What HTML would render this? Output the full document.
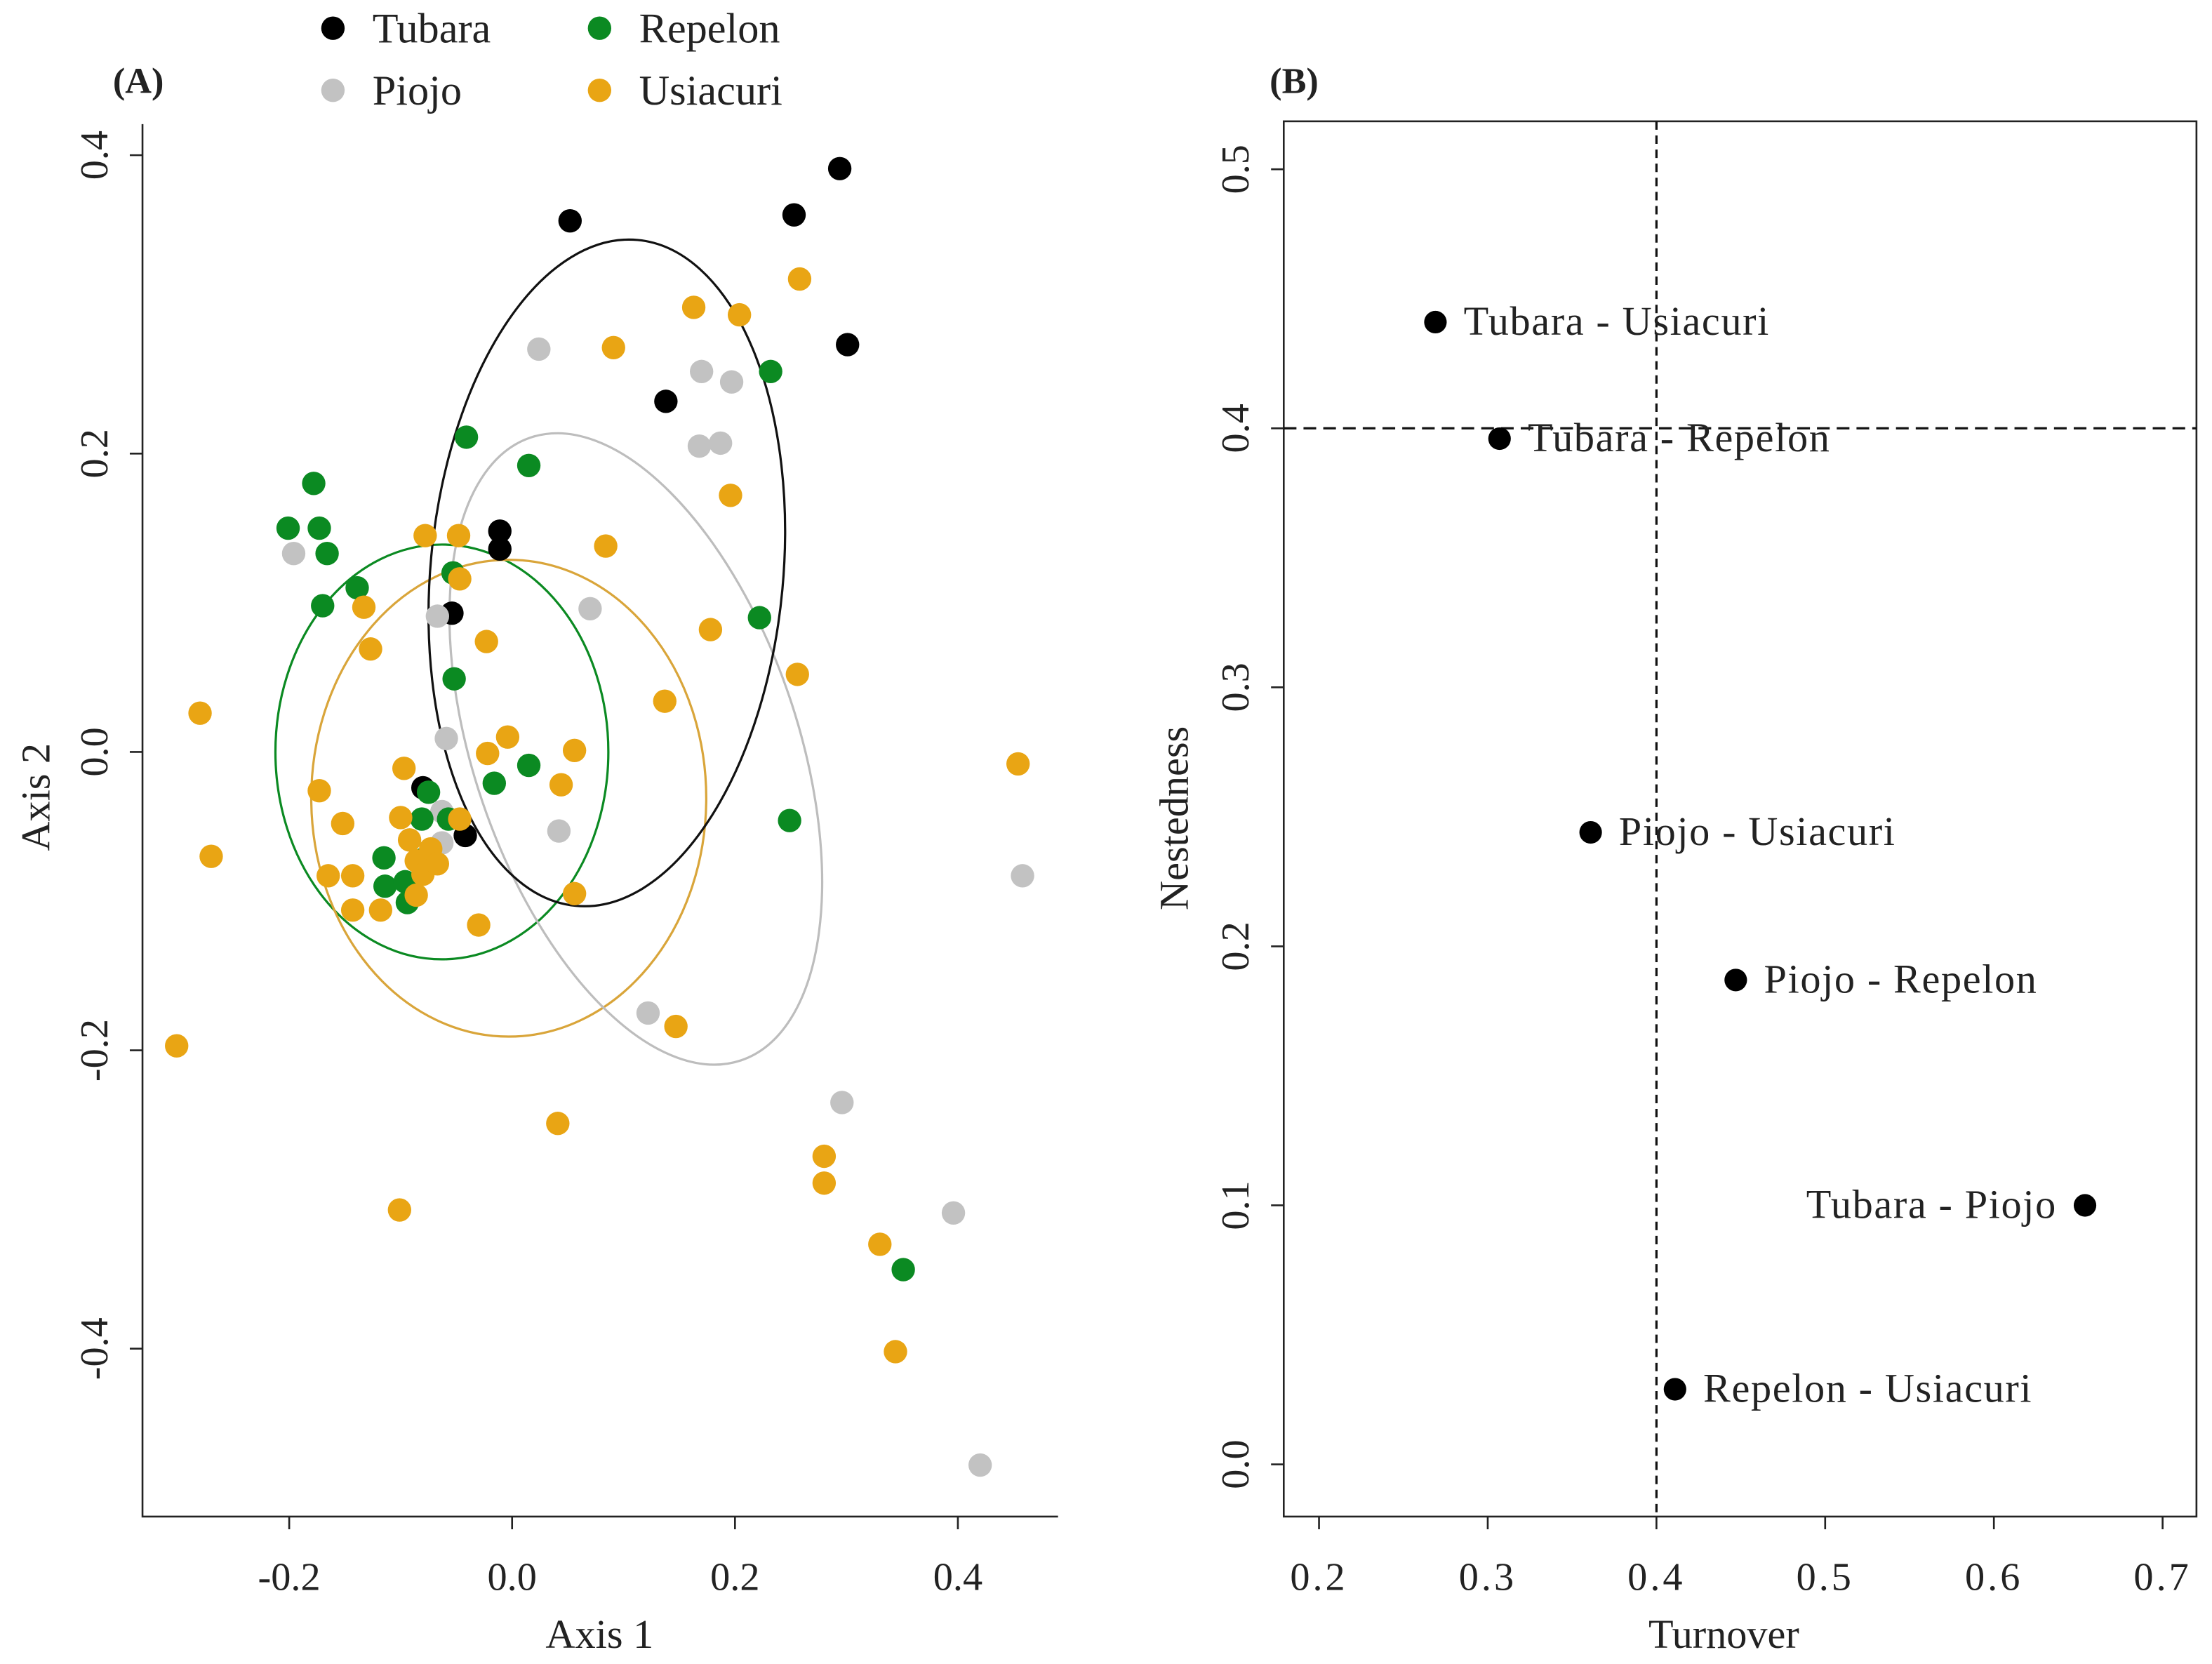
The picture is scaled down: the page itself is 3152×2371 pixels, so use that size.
<!DOCTYPE html>
<html><head><meta charset="utf-8"><style>
html,body{margin:0;padding:0;background:#fff}
svg{display:block}
text{font-family:"Liberation Serif",serif;fill:#222}
</style></head><body>
<svg id="chart" width="3152" height="2371" viewBox="0 0 1568 1179.5" xmlns="http://www.w3.org/2000/svg">
<g id="panelA"></g>
<g id="panelB"></g>
</svg>
<script>
// Panel A data
const tubaraX=[0.052,0.253,0.294,0.301,0.138,-0.011,-0.011,-0.054,-0.080,-0.042];
const tubaraY=[0.356,0.360,0.391,0.273,0.235,0.148,0.136,0.093,-0.024,-0.056];
const piojoX=[-0.196,0.024,0.170,0.197,0.168,0.187,0.070,-0.067,-0.059,-0.063,-0.063,0.042,0.122,0.296,0.396,0.458,0.420];
const piojoY=[0.133,0.270,0.255,0.248,0.205,0.207,0.096,0.091,0.009,-0.040,-0.061,-0.053,-0.175,-0.235,-0.309,-0.083,-0.478];
const repelonX=[-0.201,-0.178,-0.173,-0.166,-0.170,-0.139,-0.041,0.015,-0.053,-0.052,0.232,0.222,0.015,-0.016,-0.075,-0.057,-0.081,-0.115,-0.114,-0.094,-0.096,-0.080,0.249,0.351];
const repelonY=[0.150,0.180,0.150,0.133,0.098,0.110,0.211,0.192,0.120,0.049,0.255,0.090,-0.009,-0.021,-0.027,-0.045,-0.045,-0.071,-0.090,-0.101,-0.087,-0.072,-0.046,-0.347];
const usiacuriX=[-0.280,-0.270,-0.301,-0.173,-0.165,-0.152,-0.143,-0.143,-0.118,-0.133,-0.127,-0.078,-0.048,-0.047,-0.023,-0.022,-0.004,0.044,0.056,0.041,0.056,-0.030,-0.101,-0.097,-0.100,-0.092,-0.086,-0.080,-0.073,-0.086,-0.067,-0.047,0.091,0.084,0.137,0.147,0.163,0.204,0.196,0.178,0.256,0.258,0.280,0.280,0.330,0.344,0.454];
const usiacuriY=[0.026,-0.070,-0.197,-0.026,-0.083,-0.048,-0.083,-0.106,-0.106,0.097,0.069,0.145,0.145,0.116,0.074,-0.001,0.010,-0.022,0.001,-0.249,-0.095,-0.116,-0.307,-0.011,-0.044,-0.059,-0.073,-0.082,-0.065,-0.096,-0.075,-0.045,0.271,0.138,0.034,-0.184,0.298,0.293,0.172,0.082,0.052,0.317,-0.271,-0.289,-0.330,-0.402,-0.008];
const xTicksA=[-0.2,0.0,0.2,0.4];
const yTicksA=[-0.4,-0.2,0.0,0.2,0.4];
// Panel B data
const pairLabels=["Tubara - Usiacuri","Tubara - Repelon","Piojo - Usiacuri","Piojo - Repelon","Tubara - Piojo","Repelon - Usiacuri"];
const turnover=[0.269,0.307,0.361,0.447,0.654,0.411];
const nestedness=[0.441,0.396,0.244,0.187,0.100,0.029];
const xTicksB=[0.2,0.3,0.4,0.5,0.6,0.7];
const yTicksB=[0.0,0.1,0.2,0.3,0.4,0.5];

const NS="http://www.w3.org/2000/svg";
function mk(parent,tag,attrs,txt){const e=document.createElementNS(NS,tag);for(const k in attrs)e.setAttribute(k,attrs[k]);if(txt!==undefined)e.textContent=txt;parent.appendChild(e);return e;}
const xA=v=>363+v*790, yA=v=>533-v*1057.5;
const xB=v=>935+(v-0.2)*1196, yB=v=>1038-v*1836;
const fmt=v=>v.toFixed(1);

const A=document.getElementById('panelA');
// axes
let ax=mk(A,'path',{d:`M101,88 L101,1075 L750,1075`,fill:'none',stroke:'#222','stroke-width':1.3});


xTicksA.forEach(v=>{
  let l=mk(A,'line',{x1:xA(v),x2:xA(v),y1:1075,y2:1084,stroke:'#222','stroke-width':1.3});
  
  
  let t=mk(A,'text',{x:xA(v),y:1127,'font-size':28,'text-anchor':'middle'},fmt(v));
  
  
});
yTicksA.forEach(v=>{
  let l=mk(A,'line',{x1:92,x2:101,y1:yA(v),y2:yA(v),stroke:'#222','stroke-width':1.3});
  
  
  let t=mk(A,'text',{x:0,y:0,'font-size':28,'text-anchor':'middle',transform:`translate(76,${yA(v)}) rotate(-90)`},fmt(v));
  
  
});
let t1=mk(A,'text',{x:425,y:1168,'font-size':29,'text-anchor':'middle'},'Axis 1');


let t2=mk(A,'text',{x:0,y:0,'font-size':29,'text-anchor':'middle',transform:'translate(35,565) rotate(-90)'},'Axis 2');


let la=mk(A,'text',{x:80,y:66,'font-size':26,'font-weight':'bold'},'(A)');



// ellipses [cx data, cy data, rx px, ry px, angle]
const ells=[[ -0.063,0.0,118,147,0,'#0b8a22','repelon'],[-0.003,-0.031,140,169,0,'#d9a53a','usiacuri'],[0.111,0.002,115,233,-18.7,'#bdbdbd','piojo'],[0.085,0.12,125,237,5.3,'#111','tubara']];
ells.forEach(e=>{
  const cx=xA(e[0]),cy=yA(e[1]);
  let el=mk(A,'ellipse',{cx:0,cy:0,rx:e[2],ry:e[3],fill:'none',stroke:e[5],'stroke-width':1.6,transform:`translate(${cx},${cy}) rotate(${e[4]})`});
  
  
});
const groups=[[tubaraX,tubaraY,'#000','tubara'],[piojoX,piojoY,'#c2c2c2','piojo'],[repelonX,repelonY,'#0b8a22','repelon'],[usiacuriX,usiacuriY,'#e9a514','usiacuri']];
groups.forEach(g=>{
  g[0].forEach((x,i)=>{
    let c=mk(A,'circle',{cx:xA(x),cy:yA(g[1][i]),r:8.3,fill:g[2]});
    
    
  });
});
// legend
const leg=[['Tubara','#000',236,20],['Repelon','#0b8a22',425,20],['Piojo','#c2c2c2',236,64],['Usiacuri','#e9a514',425,64]];
leg.forEach(l=>{
  let c=mk(A,'circle',{cx:l[2],cy:l[3],r:8.3,fill:l[1]});
  
  
  let t=mk(A,'text',{x:l[2]+28,y:l[3]+10,'font-size':30},l[0]);
  
  
});

// Panel B
const B=document.getElementById('panelB');
let box=mk(B,'rect',{x:910,y:86,width:647,height:989,fill:'none',stroke:'#222','stroke-width':1.3});


xTicksB.forEach(v=>{
  let l=mk(B,'line',{x1:xB(v),x2:xB(v),y1:1075,y2:1084,stroke:'#222','stroke-width':1.3});
  
  
  let t=mk(B,'text',{x:xB(v),y:1127,'font-size':28,'text-anchor':'middle','letter-spacing':2},fmt(v));
  
  
});
yTicksB.forEach(v=>{
  let l=mk(B,'line',{x1:901,x2:910,y1:yB(v),y2:yB(v),stroke:'#222','stroke-width':1.3});
  
  
  let t=mk(B,'text',{x:0,y:0,'font-size':28,'text-anchor':'middle',transform:`translate(885,${yB(v)}) rotate(-90)`},fmt(v));
  
  
});
let vl=mk(B,'line',{x1:xB(0.4),x2:xB(0.4),y1:86,y2:1075,stroke:'#111','stroke-width':1.6,'stroke-dasharray':'6,4'});


let hl=mk(B,'line',{x1:910,x2:1557,y1:yB(0.4),y2:yB(0.4),stroke:'#111','stroke-width':1.6,'stroke-dasharray':'9,5'});


pairLabels.forEach((lab,i)=>{
  const px=xB(turnover[i]),py=yB(nestedness[i]);
  let c=mk(B,'circle',{cx:px,cy:py,r:8,fill:'#000'});
  
  
  const right=turnover[i]>0.6;
  let t=mk(B,'text',{x:right?px-20:px+20,y:py+9,'font-size':29,'text-anchor':right?'end':'start','letter-spacing':0.8},lab);
  
  
});
let bx=mk(B,'text',{x:1222,y:1168,'font-size':29,'text-anchor':'middle'},'Turnover');


let by=mk(B,'text',{x:0,y:0,'font-size':29,'text-anchor':'middle',transform:'translate(842,580) rotate(-90)'},'Nestedness');


let lb=mk(B,'text',{x:900,y:66,'font-size':26,'font-weight':'bold'},'(B)');


</script>
</body></html>
